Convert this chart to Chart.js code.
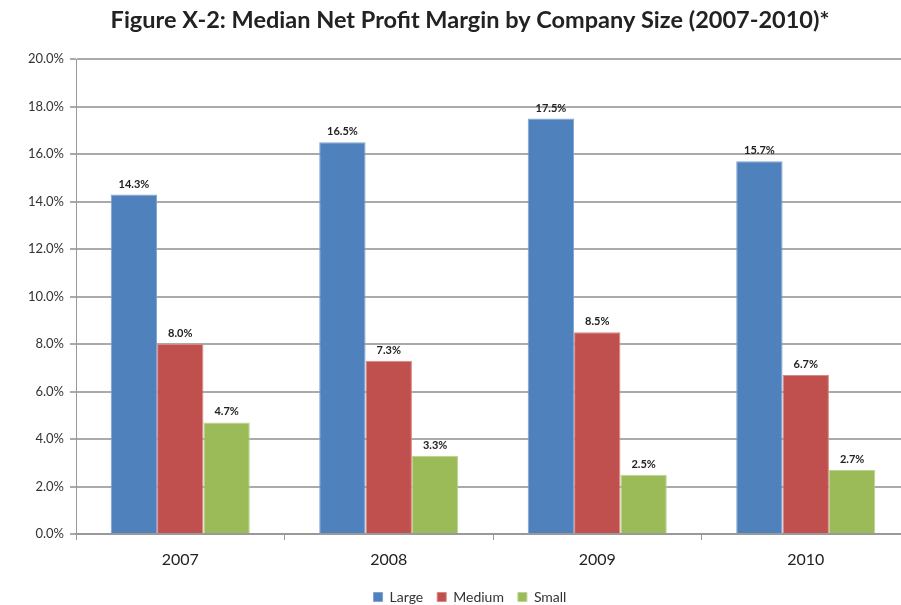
<!DOCTYPE html>
<html>
<head>
<meta charset="utf-8">
<script src="https://cdn.jsdelivr.net/npm/chart.js@4"></script>
<style>
  html, body { margin: 0; padding: 0; background: #fff; overflow: hidden; }
  #wrap { position: relative; width: 940px; height: 605px; }
</style>
</head>
<body>
<div id="wrap"><canvas id="marginChart"></canvas></div>
<script>
// chart data
const years = ['2007', '2008', '2009', '2010'];
const large = [14.3, 16.5, 17.5, 15.7];
const medium = [8.0, 7.3, 8.5, 6.7];
const small = [4.7, 3.3, 2.5, 2.7];
const yTicks = [0, 2, 4, 6, 8, 10, 12, 14, 16, 18, 20];

const FONT = 'Lato, "Open Sans", sans-serif';

// draws the value above each bar
const barLabels = {
    id: 'barLabels',
    afterDatasetsDraw(chart) {
        const ctx = chart.ctx;
        ctx.save();
        ctx.font = 'bold 11px ' + FONT;
        ctx.fillStyle = '#222';
        ctx.textAlign = 'center';
        ctx.textBaseline = 'bottom';
        chart.data.datasets.forEach((ds, i) => {
            chart.getDatasetMeta(i).data.forEach((bar, j) => {
                ctx.fillText(ds.data[j].toFixed(1) + '%', bar.x, bar.y - 5);
            });
        });
        ctx.restore();
    }
};

new Chart(document.getElementById('marginChart').getContext('2d'), {
    type: 'bar',
    data: {
        labels: years,
        datasets: [
            { label: 'Large', data: large, backgroundColor: '#4F81BD', borderColor: '#7FA3D3', borderWidth: 1 },
            { label: 'Medium', data: medium, backgroundColor: '#C0504D', borderColor: '#D88784', borderWidth: 1 },
            { label: 'Small', data: small, backgroundColor: '#9BBB59', borderColor: '#BDD38E', borderWidth: 1 }
        ]
    },
    options: {
        responsive: true,
        maintainAspectRatio: false,
        animation: false,
        datasets: { bar: { categoryPercentage: 0.667, barPercentage: 1.0 } },
        layout: { padding: { left: 0, right: 0, top: 0, bottom: -9 } },
        plugins: {
            title: {
                display: true,
                text: 'Figure X-2: Median Net Profit Margin by Company Size (2007-2010)*',
                color: '#222',
                font: { family: FONT, size: 23.5, weight: 'bold' },
                padding: { top: 6, bottom: 25 }
            },
            legend: {
                position: 'bottom',
                labels: {
                    color: '#333',
                    font: { family: FONT, size: 14 },
                    boxWidth: 9,
                    boxHeight: 9,
                    padding: 14
                }
            },
            tooltip: { enabled: false }
        },
        scales: {
            y: {
                min: 0,
                max: 20,
                afterBuildTicks: (s) => { s.ticks = yTicks.map(v => ({ value: v })); },
                afterFit: (s) => { s.width = 76; },
                border: { color: '#999', width: 1 },
                grid: { color: '#aaa', lineWidth: 2, tickLength: 6 },
                ticks: {
                    color: '#333',
                    font: { family: FONT, size: 13 },
                    padding: 6,
                    callback: (v) => v.toFixed(1) + '%'
                }
            },
            // empty right margin so title and legend stay centred on the full width
            yRight: {
                position: 'right',
                min: 0,
                max: 20,
                afterFit: (s) => { s.width = 30; },
                grid: { display: false },
                border: { display: false },
                ticks: { display: false }
            },
            x: {
                afterFit: (s) => { s.height = 42; },
                border: { color: '#999', width: 2 },
                grid: { offset: true, drawOnChartArea: false, color: '#999', tickLength: 6 },
                ticks: {
                    color: '#222',
                    font: { family: FONT, size: 16 },
                    padding: 10
                }
            }
        }
    },
    plugins: [barLabels]
});
</script>
</body>
</html>
